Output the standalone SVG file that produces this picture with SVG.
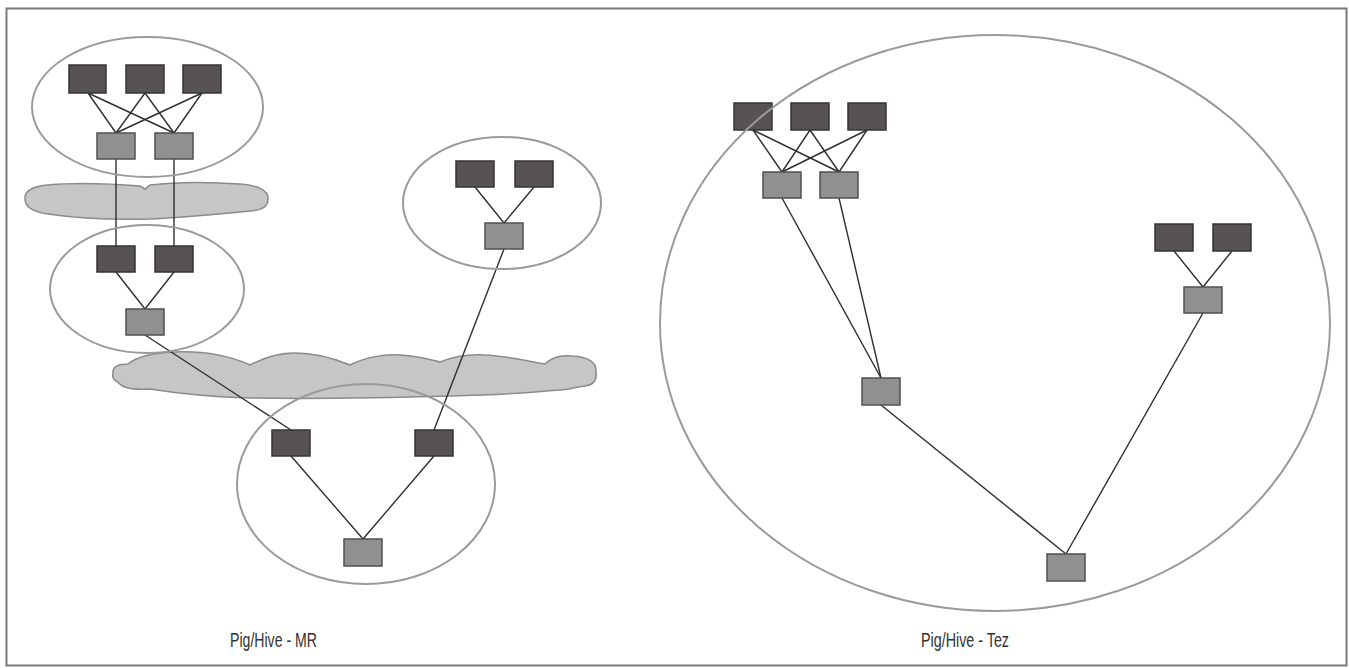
<svg xmlns="http://www.w3.org/2000/svg" width="1349" height="668" viewBox="0 0 1349 668">
<style>
.dk{fill:#575354;stroke:#353535;stroke-width:1.5}
.lt{fill:#909090;stroke:#505050;stroke-width:1.5}
.el{fill:none;stroke:#9a9a9a;stroke-width:2}
.cl{fill:#c6c6c6;stroke:#8a8a8a;stroke-width:1.5}
.ln{stroke:#2f2f2f;stroke-width:1.4;fill:none}
.lb{font-family:"Liberation Sans",Arial,sans-serif;font-size:21px;fill:#333}
</style>
<rect x="0" y="0" width="1349" height="668" fill="#fff"/>
<rect x="6.5" y="8.5" width="1340" height="657" fill="#fff" stroke="#7a7a7a" stroke-width="2"/>
<g id="clouds">
<path class="cl" d="M25,199 C24,190 35,186 48,185 C80,182 115,184 140,186 L145,189 L150,185 C175,182 210,182 240,184 C258,185 269,191 268,199 C268,207 262,210 250,211 C220,214 190,217 150,219 C110,220 75,218 48,214 C33,212 25,207 25,199 Z"/>
<path class="cl" d="M113,373 C112,366 120,364 128,364 C135,358 150,353 175,352 C205,351 232,357 250,365 C265,357 280,353 295,353 C320,353 338,360 350,365 C365,357 385,354 400,355 C420,356 432,360 440,362 C455,356 470,354 485,355 C510,356 530,362 545,364 C552,357 562,355 572,356 C588,357 597,362 596,372 C597,380 593,385 585,386 C575,387 568,390 558,390 C530,393 490,395 450,396 C380,398 310,399 250,398 C210,397 175,393 150,389 C135,390 122,388 118,382 C113,380 112,377 113,373 Z"/>
</g>
<g id="connectors">
<line class="ln" x1="88" y1="93" x2="116" y2="133"/>
<line class="ln" x1="88" y1="93" x2="174" y2="133"/>
<line class="ln" x1="145" y1="93" x2="116" y2="133"/>
<line class="ln" x1="145" y1="93" x2="174" y2="133"/>
<line class="ln" x1="202" y1="93" x2="116" y2="133"/>
<line class="ln" x1="202" y1="93" x2="174" y2="133"/>
<line class="ln" x1="116" y1="159" x2="116" y2="246"/>
<line class="ln" x1="174" y1="159" x2="174" y2="246"/>
<line class="ln" x1="116" y1="272" x2="145" y2="309"/>
<line class="ln" x1="174" y1="272" x2="145" y2="309"/>
<line class="ln" x1="145" y1="335" x2="291" y2="430"/>
<line class="ln" x1="475" y1="187" x2="504" y2="223"/>
<line class="ln" x1="534" y1="187" x2="504" y2="223"/>
<line class="ln" x1="504" y1="249" x2="434" y2="430"/>
<line class="ln" x1="291" y1="456" x2="363" y2="539"/>
<line class="ln" x1="434" y1="456" x2="363" y2="539"/>
<line class="ln" x1="753" y1="130" x2="782" y2="172"/>
<line class="ln" x1="753" y1="130" x2="839" y2="172"/>
<line class="ln" x1="810" y1="130" x2="782" y2="172"/>
<line class="ln" x1="810" y1="130" x2="839" y2="172"/>
<line class="ln" x1="867" y1="130" x2="782" y2="172"/>
<line class="ln" x1="867" y1="130" x2="839" y2="172"/>
<line class="ln" x1="782" y1="198" x2="881" y2="378"/>
<line class="ln" x1="839" y1="198" x2="881" y2="378"/>
<line class="ln" x1="1174" y1="251" x2="1203" y2="287"/>
<line class="ln" x1="1232" y1="251" x2="1203" y2="287"/>
<line class="ln" x1="881" y1="405" x2="1066" y2="554"/>
<line class="ln" x1="1203" y1="313" x2="1066" y2="554"/>
</g>
<g id="mr-group1">
<rect class="dk" x="69" y="65" width="37" height="28"/>
<rect class="dk" x="126" y="65" width="38" height="28"/>
<rect class="dk" x="183" y="65" width="38" height="28"/>
<rect class="lt" x="97" y="133" width="38" height="26"/>
<rect class="lt" x="155" y="133" width="38" height="26"/>
</g>
<g id="mr-group2">
<rect class="dk" x="97" y="246" width="38" height="26"/>
<rect class="dk" x="155" y="246" width="38" height="26"/>
<rect class="lt" x="126" y="309" width="38" height="26"/>
</g>
<g id="mr-group3">
<rect class="dk" x="456" y="161" width="38" height="26"/>
<rect class="dk" x="515" y="161" width="38" height="26"/>
<rect class="lt" x="485" y="223" width="38" height="26"/>
</g>
<g id="mr-group4">
<rect class="dk" x="272" y="430" width="38" height="26"/>
<rect class="dk" x="415" y="430" width="38" height="26"/>
<rect class="lt" x="344" y="539" width="38" height="27"/>
</g>
<g id="tez-group">
<rect class="dk" x="734" y="103" width="38" height="27"/>
<rect class="dk" x="791" y="103" width="38" height="27"/>
<rect class="dk" x="848" y="103" width="38" height="27"/>
<rect class="lt" x="763" y="172" width="38" height="26"/>
<rect class="lt" x="820" y="172" width="38" height="26"/>
<rect class="dk" x="1155" y="224" width="38" height="27"/>
<rect class="dk" x="1213" y="224" width="38" height="27"/>
<rect class="lt" x="1184" y="287" width="38" height="26"/>
<rect class="lt" x="862" y="378" width="38" height="27"/>
<rect class="lt" x="1047" y="554" width="38" height="27"/>
</g>
<g id="boundaries">
<ellipse class="el" cx="147.5" cy="107" rx="115.5" ry="70"/>
<ellipse class="el" cx="147" cy="289" rx="97" ry="64"/>
<ellipse class="el" cx="502" cy="203" rx="99" ry="66"/>
<ellipse class="el" cx="366" cy="484" rx="129" ry="100"/>
<ellipse class="el" cx="995" cy="323" rx="335" ry="288"/>
</g>
<g id="labels">
<text class="lb" x="230" y="647" textLength="87" lengthAdjust="spacingAndGlyphs">Pig/Hive - MR</text>
<text class="lb" x="921" y="647" textLength="88" lengthAdjust="spacingAndGlyphs">Pig/Hive - Tez</text>
</g>
</svg>
